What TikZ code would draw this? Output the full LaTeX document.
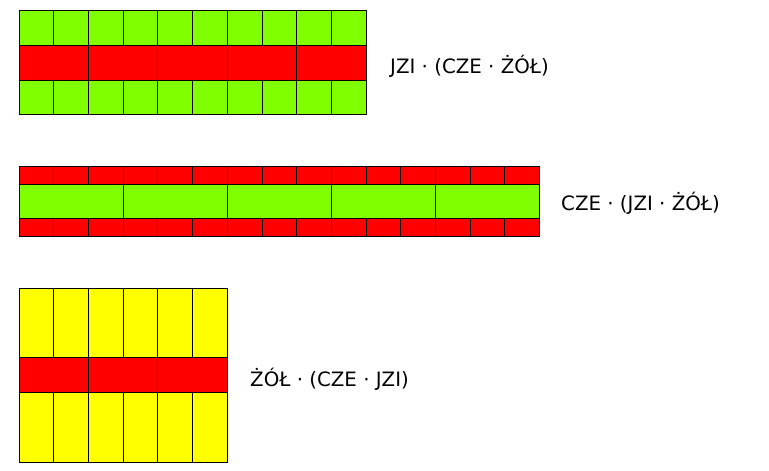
\documentclass[tikz,border=0pt]{standalone}
\usepackage{fontspec}
\setmainfont{DejaVu Sans}
\definecolor{gr}{HTML}{7FFF00}
\definecolor{rd}{HTML}{FF0000}
\definecolor{ye}{HTML}{FFFF00}
\begin{document}
\begin{tikzpicture}[x=1pt,y=-1pt,
  cell/.style={draw=black,line width=0.8pt},
  lbl/.style={anchor=west,inner sep=0pt,font=\fontsize{19.8}{23}\selectfont}]
\useasboundingbox (0,0) rectangle (769,471);
\def\w{34.7}
% top block
\foreach \i in {0,...,9} {
  \draw[cell,fill=gr] ({19+\w*\i},10) rectangle ({19+\w*(\i+1)},45);
  \draw[cell,fill=gr] ({19+\w*\i},80) rectangle ({19+\w*(\i+1)},114);
}
\foreach \i in {0,...,4} {
  \draw[cell,fill=rd] ({19+2*\w*\i},45) rectangle ({19+2*\w*(\i+1)},80);
}
% middle block
\foreach \i in {0,...,14} {
  \draw[cell,fill=rd] ({19+\w*\i},166) rectangle ({19+\w*(\i+1)},184);
  \draw[cell,fill=rd] ({19+\w*\i},218) rectangle ({19+\w*(\i+1)},236);
}
\foreach \i in {0,...,4} {
  \draw[cell,fill=gr] ({19+3*\w*\i},184) rectangle ({19+3*\w*(\i+1)},218);
}
% bottom block
\foreach \i in {0,...,5} {
  \draw[cell,fill=ye] ({19+\w*\i},288) rectangle ({19+\w*(\i+1)},357);
  \draw[cell,fill=ye] ({19+\w*\i},392) rectangle ({19+\w*(\i+1)},462);
}
\foreach \i in {0,...,2} {
  \draw[cell,fill=rd] ({19+2*\w*\i},357) rectangle ({19+2*\w*(\i+1)},392);
}
\node[lbl] (l1) at (390,66) {JZI · (CZE · ŻÓŁ)};
\node[lbl] (l2) at (561,203) {CZE · (JZI · ŻÓŁ)};
\node[lbl] (l3) at (250,379) {ŻÓŁ · (CZE · JZI)};
\end{tikzpicture}
\end{document}
